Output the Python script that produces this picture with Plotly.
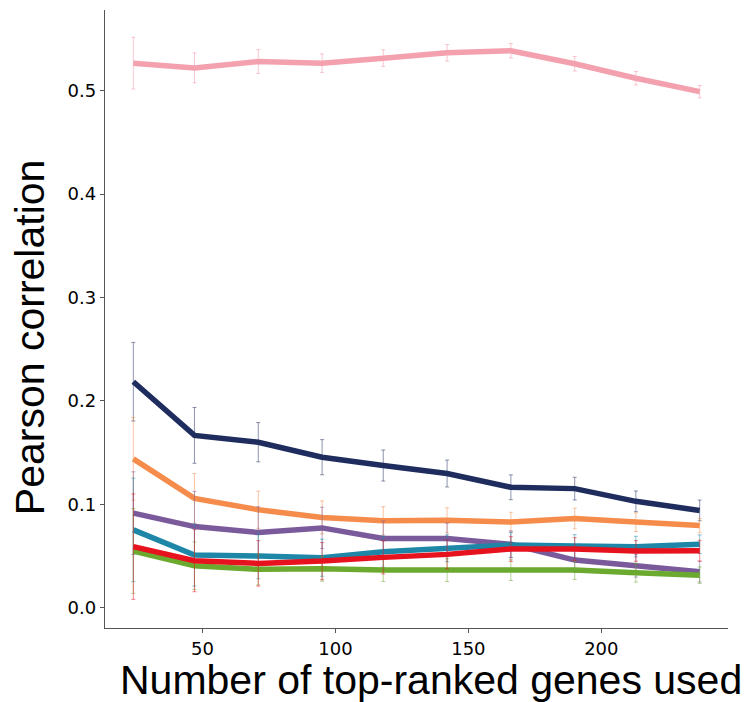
import plotly.graph_objects as go

genes = [24, 47, 71, 95, 118, 142, 166, 190, 213, 237]

pink = [0.5266, 0.5220, 0.5282, 0.5266, 0.5314, 0.5366, 0.5386, 0.5260, 0.5120, 0.4990]
pink_err = [0.025, 0.0145, 0.0115, 0.009, 0.008, 0.008, 0.007, 0.007, 0.0065, 0.006]

navy = [0.2185, 0.1666, 0.1600, 0.1455, 0.1374, 0.1297, 0.1164, 0.1151, 0.1028, 0.0940]
navy_err = [0.038, 0.027, 0.019, 0.017, 0.015, 0.013, 0.012, 0.011, 0.010, 0.010]

orange = [0.1439, 0.1057, 0.0947, 0.0872, 0.0840, 0.0846, 0.0827, 0.0862, 0.0827, 0.0794]
orange_err = [0.040, 0.024, 0.018, 0.016, 0.0136, 0.012, 0.0095, 0.010, 0.009, 0.007]

purple = [0.0914, 0.0784, 0.0726, 0.0771, 0.0668, 0.0668, 0.0613, 0.0460, 0.0405, 0.0347]
purple_err = [0.040, 0.034, 0.025, 0.020, 0.017, 0.015, 0.013, 0.012, 0.011, 0.010]

teal = [0.0752, 0.0509, 0.0499, 0.0483, 0.0541, 0.0574, 0.0606, 0.0596, 0.0590, 0.0613]
teal_err = [0.050, 0.030, 0.022, 0.018, 0.015, 0.013, 0.012, 0.011, 0.010, 0.009]

green = [0.0548, 0.0405, 0.0370, 0.0376, 0.0363, 0.0363, 0.0363, 0.0363, 0.0337, 0.0314]
green_err = [0.041, 0.023, 0.015, 0.012, 0.011, 0.011, 0.010, 0.009, 0.009, 0.008]

red = [0.0590, 0.0454, 0.0428, 0.0450, 0.0486, 0.0515, 0.0567, 0.0567, 0.0548, 0.0551]
red_err = [0.051, 0.030, 0.022, 0.018, 0.016, 0.014, 0.012, 0.011, 0.010, 0.010]

series = [
    (pink, pink_err, "#F4A1AF", "rgba(244,161,175,0.6)"),
    (navy, navy_err, "#1F2C5E", "rgba(31,44,94,0.5)"),
    (orange, orange_err, "#F58C4B", "rgba(245,140,75,0.5)"),
    (purple, purple_err, "#7B5A9B", "rgba(123,90,155,0.5)"),
    (teal, teal_err, "#1E87A8", "rgba(30,135,168,0.5)"),
    (green, green_err, "#6BAA2F", "rgba(107,170,47,0.5)"),
    (red, red_err, "#E6121E", "rgba(230,18,30,0.5)"),
]

fig = go.Figure()
for vals, errs, col, ecol in series:
    fig.add_trace(go.Scatter(
        x=genes, y=vals, mode="lines",
        line=dict(color=col, width=5.5),
        error_y=dict(type="data", array=errs, visible=True,
                     color=ecol, thickness=1, width=2),
        showlegend=False,
    ))

axis_common = dict(
    showline=True, linecolor="#555555", linewidth=1.3,
    ticks="outside", ticklen=4, tickcolor="#555555", tickwidth=1,
    showgrid=False, zeroline=False,
    tickfont=dict(family="DejaVu Sans", size=18, color="black"),
)

fig.update_xaxes(range=[13.35, 247.65], tickvals=[50, 100, 150, 200], **axis_common)
fig.update_yaxes(range=[-0.0197, 0.578], tickvals=[0.0, 0.1, 0.2, 0.3, 0.4, 0.5],
                 tickformat=".1f", **axis_common)

# page body has an 8px default margin, so the figure is offset accordingly
fig.update_layout(
    width=746, height=694,
    margin=dict(l=97, r=26, t=2, b=74),
    paper_bgcolor="white", plot_bgcolor="white",
    annotations=[
        dict(text="Number of top-ranked genes used", xref="paper", yref="paper",
             x=0.5225, y=-0.0843, xanchor="center", yanchor="middle", showarrow=False,
             font=dict(family="Liberation Sans", size=41, color="black")),
        dict(text="Pearson correlation", xref="paper", yref="paper",
             x=-0.1210, y=0.470, xanchor="center", yanchor="middle", showarrow=False,
             textangle=-90,
             font=dict(family="Liberation Sans", size=41, color="black")),
    ],
)

fig.write_html("out.html")
